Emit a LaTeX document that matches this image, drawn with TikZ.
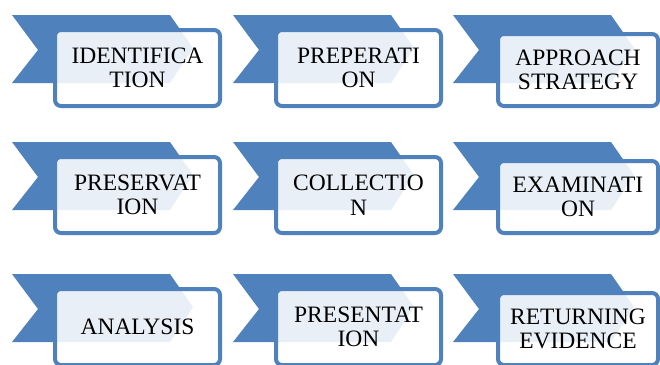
\documentclass[tikz,border=0pt]{standalone}
\usepackage{fontspec}
\setmainfont{Liberation Serif}
\definecolor{ribblue}{HTML}{4F81BD}
% #1 name, #2 cx, #3 ry, #4 rect top shift, #5 rect left, #6 rect right, #7 text
\newcommand\ribbonitem[7]{%
  \fill[ribbonfill] (#2,#3) -- ++(158,0) -- ++(23,33) -- ++(-23,35) -- ++(-158,0) -- ++(26,-33) -- cycle;
  \draw[ribbonbox] (#2+#5,#3+15+#4) rectangle (#2+#6,#3+91);
  \node[itemtext] (#1) at (#2+#5/2+#6/2,#3+53+#4/2) {#7};
}
\begin{document}
\begin{tikzpicture}[x=1pt,y=-1pt,
  ribbonfill/.style={fill=ribblue},
  ribbonbox/.style={draw=ribblue,line width=4pt,fill=white,fill opacity=0.88,rounded corners=6pt},
  itemtext/.style={align=center,inner sep=0pt,font=\fontsize{23.5}{24.5}\selectfont,text=black}]
\useasboundingbox (0,0) rectangle (660,364);
\ribbonitem{identification}{12}{15}{0}{43}{208}{IDENTIFICA\\TION}
\ribbonitem{preperation}{233}{15}{0}{43}{208}{PREPERATI\\ON}
\ribbonitem{approach}{453}{15}{4}{45}{205}{APPROACH\\STRATEGY}
\ribbonitem{preservation}{12}{142}{0}{43}{208}{PRESERVAT\\ION}
\ribbonitem{collection}{233}{142}{0}{43}{208}{COLLECTIO\\N}
\ribbonitem{examination}{453}{142}{4}{45}{205}{EXAMINATI\\ON}
\ribbonitem{analysis}{12}{274}{0}{43}{208}{ANALYSIS}
\ribbonitem{presentation}{233}{274}{0}{43}{208}{PRESENTAT\\ION}
\ribbonitem{returning}{453}{274}{4}{45}{205}{RETURNING\\EVIDENCE}
\end{tikzpicture}
\end{document}
